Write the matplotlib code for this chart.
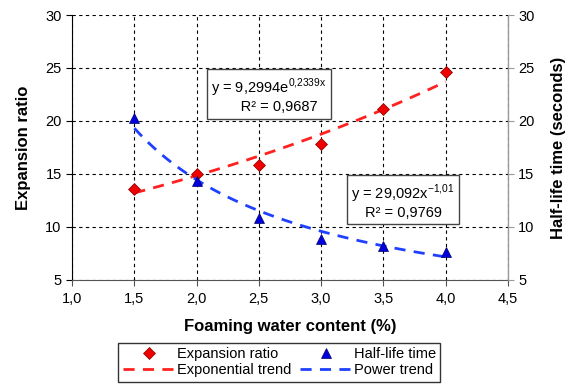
import numpy as np
import matplotlib
matplotlib.use("Agg")
import matplotlib.pyplot as plt

plt.rcParams['font.family'] = ['Liberation Sans', 'DejaVu Sans']
plt.rcParams['mathtext.fontset'] = 'custom'
plt.rcParams['mathtext.rm'] = 'Liberation Sans'

# data
water = [1.5, 2.0, 2.5, 3.0, 3.5, 4.0]
expansion = [13.6, 15.0, 15.8, 17.8, 21.1, 24.6]
half_life = [20.3, 14.3, 10.8, 8.9, 8.2, 7.6]

# trend coefficients shown in the chart
exp_a, exp_b = 9.2994, 0.2339
pow_a, pow_b = 29.092, -1.01

xt = np.linspace(1.5, 4.0, 100)

fig = plt.figure(figsize=(5.68, 3.85), dpi=100)
ax = fig.add_axes([0.127, 0.273, 0.767, 0.688])
ax2 = ax.twinx()

ax.set_xlim(1.0, 4.5)
ax.set_ylim(5, 30)
ax2.set_ylim(5, 30)
ax.set_xticks(np.arange(1.0, 4.51, 0.5))
ax.set_xticklabels([('%.1f' % v).replace('.', ',') for v in np.arange(1.0, 4.51, 0.5)])
ax.set_yticks(range(5, 31, 5))
ax2.set_yticks(range(5, 31, 5))
ax.grid(True, color='black', linestyle=(0, (3, 3)), linewidth=0.8)

h1, = ax.plot(water, expansion, 'D', color='#ee0000', mec='#880000', mew=0.5,
              ms=6, label='Expansion ratio', zorder=5)
h3, = ax.plot(xt, exp_a * np.exp(exp_b * xt), '--', color='#ff2020', lw=2,
              dashes=(4, 3), label='Exponential trend', zorder=4)
h2, = ax2.plot(water, half_life, '^', color='#0000dd', mec='#000066', mew=0.5,
               ms=7, label='Half-life time', zorder=5)
h4, = ax2.plot(xt, pow_a * xt ** pow_b, '--', color='#2040ff', lw=2,
               dashes=(4, 3), label='Power trend', zorder=4)

for a in (ax, ax2):
    a.spines['top'].set_visible(False)
    a.tick_params(labelsize=10.5, length=4, width=0.8)
ax.spines['left'].set_color('black')
ax.spines['bottom'].set_color('#555555')
ax2.spines['right'].set_color('#999999')
ax2.spines['left'].set_visible(False)
ax2.spines['bottom'].set_visible(False)
ax.tick_params(axis='x', colors='#555555', labelcolor='black', pad=5)
ax2.tick_params(axis='y', colors='#999999', labelcolor='black')

ax.set_xlabel('Foaming water content (%)', fontsize=12, fontweight='bold', labelpad=9)
ax.set_ylabel('Expansion ratio', fontsize=12, fontweight='bold', labelpad=10)
ax2.set_ylabel('Half-life time (seconds)', fontsize=12, fontweight='bold', labelpad=12)

box = dict(boxstyle='square,pad=0.3', fc='white', ec='#444444', lw=1)
ax.text(2.58, 22.4, 'y = 9,2994e$^{\\mathrm{0{,}2339x}}$\n     R² = 0,9687', fontsize=10.5,
        ha='center', va='center', bbox=box, zorder=6, linespacing=1.1)
ax.text(3.66, 12.45, 'y = 29,092x$^{\\mathrm{-1{,}01}}$\nR² = 0,9769', fontsize=10.5,
        ha='center', va='center', bbox=box, zorder=6, linespacing=1.1)

leg = fig.legend([h1, h3, h2, h4],
                 ['Expansion ratio', 'Exponential trend', 'Half-life time', 'Power trend'],
                 ncol=2, loc='lower center', bbox_to_anchor=(0.492, -0.01),
                 fontsize=10.5, frameon=True, fancybox=False, edgecolor='black',
                 handlelength=3.6, columnspacing=0.6, borderpad=0.3,
                 labelspacing=0.15, handletextpad=0.1)
leg.get_frame().set_linewidth(1)

fig.savefig('out.png', dpi=100)
